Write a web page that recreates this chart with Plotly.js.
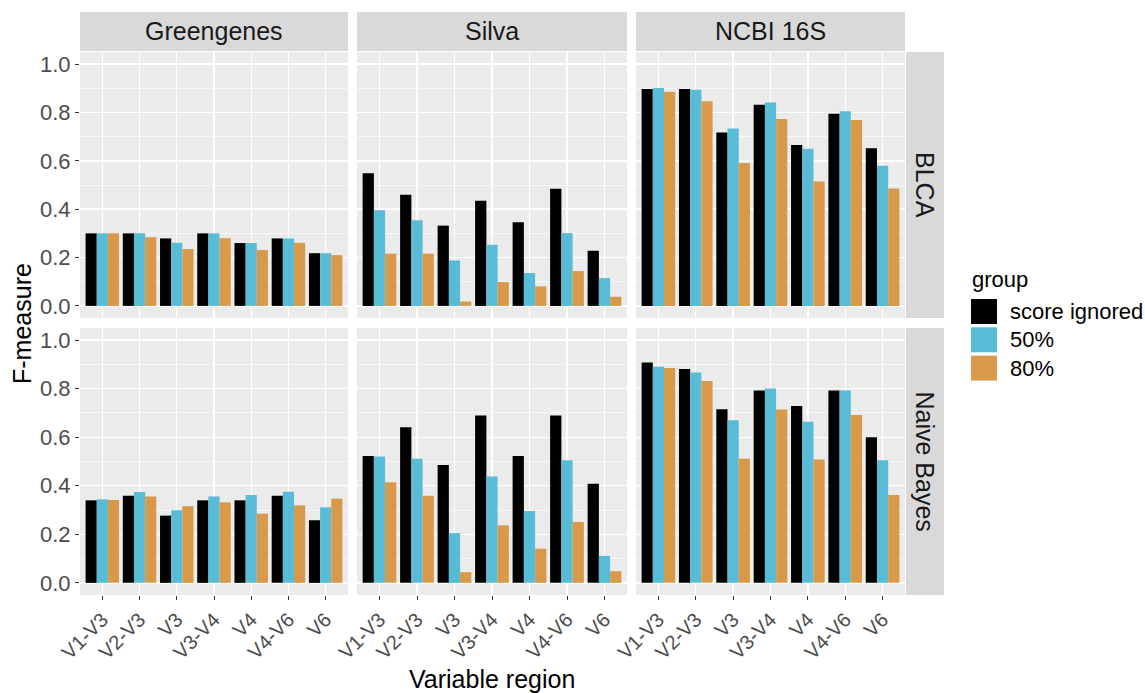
<!DOCTYPE html>
<html>
<head>
<meta charset="utf-8">
<script src="https://cdn.plot.ly/plotly-3.0.1.min.js"></script>
<style>html,body{margin:0;padding:0;background:#fff;}#chart{width:1145px;height:693px;}</style>
</head>
<body>
<div id="chart"></div>
<script>
// ---- data ----
const regions = ["V1-V3","V2-V3","V3","V3-V4","V4","V4-V6","V6"];
const databases = ["Greengenes","Silva","NCBI 16S"];
const methods = ["BLCA","Naive Bayes"];
const groups = ["score ignored","50%","80%"];
const groupColors = ["#000000","#59BCD7","#D89A4A"];

// BLCA
const blca_greengenes_ignored = [0.30,0.30,0.279,0.30,0.26,0.279,0.218];
const blca_greengenes_50      = [0.30,0.30,0.261,0.30,0.26,0.279,0.218];
const blca_greengenes_80      = [0.30,0.284,0.235,0.28,0.231,0.261,0.21];
const blca_silva_ignored = [0.549,0.46,0.332,0.435,0.346,0.485,0.228];
const blca_silva_50      = [0.396,0.354,0.188,0.253,0.136,0.301,0.115];
const blca_silva_80      = [0.216,0.216,0.018,0.099,0.081,0.144,0.038];
const blca_ncbi_ignored = [0.897,0.897,0.717,0.832,0.665,0.795,0.652];
const blca_ncbi_50      = [0.901,0.894,0.734,0.841,0.650,0.805,0.580];
const blca_ncbi_80      = [0.886,0.846,0.591,0.773,0.514,0.769,0.486];
// Naive Bayes
const nb_greengenes_ignored = [0.34,0.359,0.277,0.34,0.34,0.359,0.258];
const nb_greengenes_50      = [0.344,0.374,0.299,0.356,0.362,0.375,0.311];
const nb_greengenes_80      = [0.341,0.356,0.316,0.332,0.285,0.319,0.347];
const nb_silva_ignored = [0.523,0.641,0.486,0.689,0.523,0.689,0.408];
const nb_silva_50      = [0.521,0.511,0.205,0.438,0.296,0.505,0.111];
const nb_silva_80      = [0.414,0.359,0.044,0.237,0.141,0.251,0.048];
const nb_ncbi_ignored = [0.908,0.881,0.715,0.792,0.729,0.792,0.600];
const nb_ncbi_50      = [0.890,0.867,0.670,0.801,0.664,0.792,0.505];
const nb_ncbi_80      = [0.885,0.832,0.511,0.714,0.508,0.692,0.362];

const yTicks = [0,0.2,0.4,0.6,0.8,1.0];

const panels = [
  [[blca_greengenes_ignored,blca_greengenes_50,blca_greengenes_80],
   [blca_silva_ignored,blca_silva_50,blca_silva_80],
   [blca_ncbi_ignored,blca_ncbi_50,blca_ncbi_80]],
  [[nb_greengenes_ignored,nb_greengenes_50,nb_greengenes_80],
   [nb_silva_ignored,nb_silva_50,nb_silva_80],
   [nb_ncbi_ignored,nb_ncbi_50,nb_ncbi_80]]
];

// ---- layout geometry (pixels) ----
const W = 1145, H = 693;
const px = v => v / W;
const py = v => 1 - v / H;
const colX = [[80,348],[357,627],[636,905]];
const rowY = [[52,318],[328,595]];
const FONT = "Liberation Sans, Arial, sans-serif";

const traces = [];
const layout = {
  width: W, height: H,
  margin: {l:0,r:0,t:0,b:0},
  paper_bgcolor: "#FFFFFF",
  plot_bgcolor: "#EBEBEB",
  barmode: "group",
  bargap: 0.1,
  bargroupgap: 0,
  showlegend: false,
  font: {family: FONT, color: "#4D4D4D"},
  shapes: [],
  annotations: []
};

for (let r = 0; r < 2; r++) {
  for (let c = 0; c < 3; c++) {
    const idx = r*3 + c + 1;
    const xa = idx === 1 ? "x" : "x" + idx;
    const ya = idx === 1 ? "y" : "y" + idx;
    for (let g = 0; g < 3; g++) {
      traces.push({
        type: "bar",
        x: regions,
        y: panels[r][c][g],
        name: groups[g],
        marker: {color: groupColors[g], line: {width: 0}},
        xaxis: xa, yaxis: ya,
        hoverinfo: "x+y+name"
      });
    }
    const xKey = idx === 1 ? "xaxis" : "xaxis" + idx;
    const yKey = idx === 1 ? "yaxis" : "yaxis" + idx;
    layout[xKey] = {
      domain: [px(colX[c][0]), px(colX[c][1])],
      anchor: ya,
      type: "category",
      categoryorder: "array",
      categoryarray: regions,
      range: [-0.6, 6.6],
      showgrid: true, gridcolor: "#FFFFFF", gridwidth: 1.4,
      zeroline: false, showline: false,
      ticks: r === 1 ? "outside" : "",
      ticklen: 4, tickcolor: "#333333", tickwidth: 1,
      showticklabels: r === 1,
      tickangle: -45,
      tickfont: {size: 20, color: "#4D4D4D", family: FONT},
      fixedrange: true
    };
    layout[yKey] = {
      domain: [py(rowY[r][1]), py(rowY[r][0])],
      anchor: xa,
      range: [-0.05, 1.05],
      tickvals: yTicks,
      tickformat: ".1f",
      showgrid: true, gridcolor: "#FFFFFF", gridwidth: 1.4,
      minor: {dtick: 0.1, tick0: 0, showgrid: true, gridcolor: "#FFFFFF", gridwidth: 0.6, ticks: ""},
      zeroline: false, showline: false,
      ticks: c === 0 ? "outside" : "",
      ticklen: 4, tickcolor: "#333333", tickwidth: 1,
      showticklabels: c === 0,
      tickfont: {size: 22, color: "#4D4D4D", family: FONT},
      fixedrange: true
    };
  }
}

// top strips
for (let c = 0; c < 3; c++) {
  layout.shapes.push({type:"rect", xref:"paper", yref:"paper",
    x0: px(colX[c][0]), x1: px(colX[c][1]), y0: py(51), y1: py(12),
    fillcolor:"#D9D9D9", line:{width:0}, layer:"below"});
  layout.annotations.push({xref:"paper", yref:"paper",
    x: px((colX[c][0]+colX[c][1])/2), y: py(31.5), text: databases[c],
    showarrow:false, xanchor:"center", yanchor:"middle",
    font:{size:25, color:"#1A1A1A", family:FONT}});
}
// right strips
for (let r = 0; r < 2; r++) {
  layout.shapes.push({type:"rect", xref:"paper", yref:"paper",
    x0: px(906), x1: px(944), y0: py(rowY[r][1]), y1: py(rowY[r][0]),
    fillcolor:"#D9D9D9", line:{width:0}, layer:"below"});
  layout.annotations.push({xref:"paper", yref:"paper",
    x: px(925), y: py((rowY[r][0]+rowY[r][1])/2), text: methods[r],
    showarrow:false, xanchor:"center", yanchor:"middle", textangle: 90,
    font:{size:25, color:"#1A1A1A", family:FONT}});
}
// axis titles
layout.annotations.push({xref:"paper", yref:"paper", x: px(22), y: py(324),
  text:"F-measure", showarrow:false, textangle:-90, xanchor:"center", yanchor:"middle",
  font:{size:25, color:"#000000", family:FONT}});
layout.annotations.push({xref:"paper", yref:"paper", x: px(492), y: py(679),
  text:"Variable region", showarrow:false, xanchor:"center", yanchor:"middle",
  font:{size:25, color:"#000000", family:FONT}});

// legend (manual, from groups/groupColors)
layout.annotations.push({xref:"paper", yref:"paper", x: px(970), y: py(279),
  text:"group", showarrow:false, xanchor:"left", yanchor:"middle",
  font:{size:22, color:"#000000", family:FONT}});
for (let g = 0; g < groups.length; g++) {
  const top = 299 + g*28.3;
  layout.shapes.push({type:"rect", xref:"paper", yref:"paper",
    x0: px(971), x1: px(997), y0: py(top+25), y1: py(top),
    fillcolor: groupColors[g], line:{width:0}});
  layout.annotations.push({xref:"paper", yref:"paper", x: px(1008), y: py(top+12.5),
    text: groups[g], showarrow:false, xanchor:"left", yanchor:"middle",
    font:{size:22, color:"#000000", family:FONT}});
}

Plotly.newPlot("chart", traces, layout, {displayModeBar:false, staticPlot:true});
</script>
</body>
</html>
